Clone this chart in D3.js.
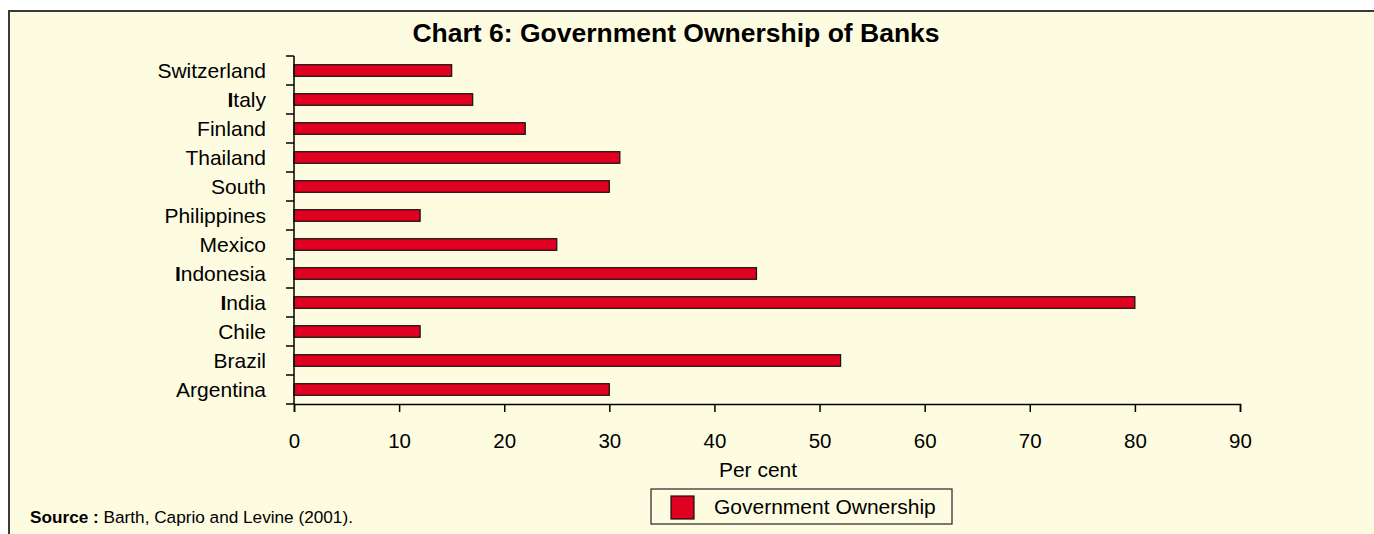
<!DOCTYPE html>
<html><head><meta charset="utf-8">
<script src="https://cdn.jsdelivr.net/npm/d3@7"></script>
<style>
html,body{margin:0;padding:0;background:#fff;}
svg{display:block;font-family:"Liberation Sans",Arial,sans-serif;}
</style></head>
<body>
<svg id="c" width="1374" height="534"></svg>
<script>
const categories = ["Switzerland","Italy","Finland","Thailand","South","Philippines","Mexico","Indonesia","India","Chile","Brazil","Argentina"];
const values = [15,17,22,31,30,12,25,44,80,12,52,30];
const xTicks = [0,10,20,30,40,50,60,70,80,90];
const seriesName = "Government Ownership";
const titleText = "Chart 6: Government Ownership of Banks";
const xLabel = "Per cent";

const svg = d3.select("#c");
// frame
svg.append("rect").attr("x",9).attr("y",11).attr("width",1400).attr("height",600)
  .attr("fill","#FEFCE0").attr("stroke","#3a3a3a").attr("stroke-width",2);

svg.append("text").attr("x",676).attr("y",42).attr("text-anchor","middle")
  .attr("font-size",26.5).attr("font-weight","bold").attr("fill","#000").text(titleText);

const x = d3.scaleLinear().domain([0,90]).range([294,1240]);
const y = d3.scaleBand().domain(categories).range([56,404]).paddingInner(0.6).paddingOuter(0.3);

// bars
svg.append("g").selectAll("rect").data(categories).join("rect")
  .attr("x",x(0)).attr("y",d=>y(d))
  .attr("width",(d,i)=>x(values[i])-x(0)).attr("height",y.bandwidth())
  .attr("fill","#E0001F").attr("stroke","#111").attr("stroke-width",1.2);

// x axis
const xa = svg.append("g").attr("transform","translate(0,404)")
  .call(d3.axisBottom(x).tickValues(xTicks).tickSize(8).tickPadding(21).tickFormat(d3.format("d")));
xa.select(".domain").attr("stroke","#000").attr("stroke-width",1.5);
xa.selectAll(".tick line").attr("stroke","#000").attr("stroke-width",1.5);
xa.selectAll(".tick text").attr("font-size",20.5).attr("fill","#000").attr("font-family","Liberation Sans, Arial, sans-serif");

// y axis line and boundary ticks
svg.append("line").attr("x1",294).attr("x2",294).attr("y1",56).attr("y2",404)
  .attr("stroke","#000").attr("stroke-width",1.5);
const step = y.step();
const bounds = d3.range(categories.length+1).map(i=> y(categories[0]) - y.paddingOuter()*step + i*step);
svg.append("g").selectAll("line").data(bounds).join("line")
  .attr("x1",286).attr("x2",294).attr("y1",d=>d).attr("y2",d=>d)
  .attr("stroke","#000").attr("stroke-width",1.5);

// category labels
const lab = svg.append("g").selectAll("text").data(categories).join("text")
  .attr("x",266).attr("y",d=>y(d)+y.bandwidth()/2).attr("dy","0.36em")
  .attr("text-anchor","end").attr("font-size",21).attr("fill","#000");
lab.each(function(d){
  const t = d3.select(this);
  if (d[0]==="I") {
    t.append("tspan").attr("font-weight","bold").text("I");
    t.append("tspan").text(d.slice(1));
  } else t.text(d);
});

svg.append("text").attr("x",758).attr("y",477).attr("text-anchor","middle")
  .attr("font-size",21).attr("fill","#000").text(xLabel);

// legend
svg.append("rect").attr("x",651).attr("y",489).attr("width",301).attr("height",35)
  .attr("fill","none").attr("stroke","#222").attr("stroke-width",1.2);
svg.append("rect").attr("x",671).attr("y",496).attr("width",23).attr("height",23)
  .attr("fill","#E0001F").attr("stroke","#111").attr("stroke-width",1.2);
svg.append("text").attr("x",714).attr("y",514).attr("font-size",21).attr("fill","#000").text(seriesName);

// source
const src = svg.append("text").attr("x",30).attr("y",523).attr("font-size",17.2).attr("fill","#000");
src.append("tspan").attr("font-weight","bold").text("Source : ");
src.append("tspan").text("Barth, Caprio and Levine (2001).");
</script>
</body></html>
